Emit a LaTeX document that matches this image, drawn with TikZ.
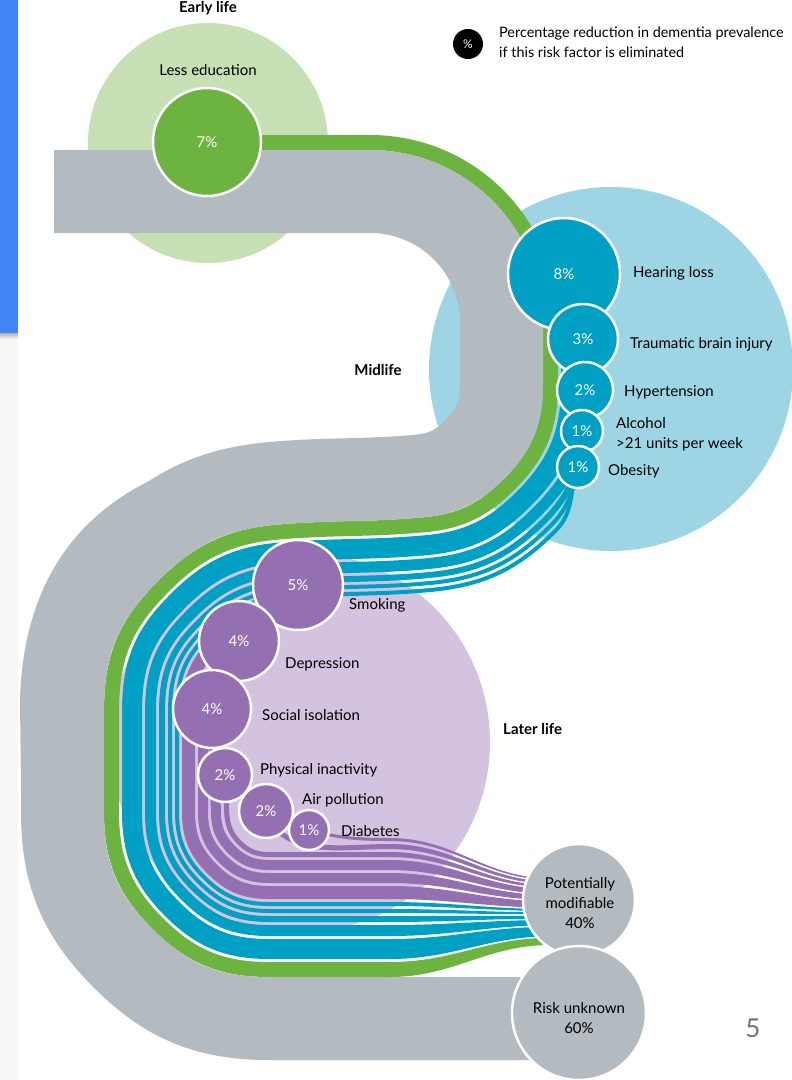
\documentclass[tikz,border=0pt]{standalone}
\usepackage{fontspec}
\setmainfont{Lato}
\usetikzlibrary{calc}
\definecolor{bandgrey}{HTML}{B3BAC0}
\definecolor{mgreen}{HTML}{6DB33F}
\definecolor{lgreen}{HTML}{C7DFB4}
\definecolor{mblue}{HTML}{00A0C4}
\definecolor{lblue}{HTML}{9DD5E5}
\definecolor{mpurple}{HTML}{946FB1}
\definecolor{lpurple}{HTML}{D3C2E0}
\definecolor{barblue}{HTML}{4285F4}
\newcommand\lblfont{\fontsize{15}{18}\selectfont}
\tikzset{factor/.style = {circle, draw=white, line width=2.5pt, inner sep=0, text=white, font=\lblfont}}
\tikzset{lbl/.style = {anchor=base west, inner sep=0, font=\lblfont}}
\tikzset{stage/.style = {anchor=base, inner sep=0, font=\lblfont\bfseries}}
% one flow, offset #1 from the grey/green edge
\tikzset{
  pA/.style = {insert path={-- ($(a1)+(90:#1)$) to[out=0,in=90] ($(a2)+(0:#1)$)}},
  pB/.style = {insert path={-- ($(a3)+(0:#1)$) to[out=-90,in=45] ($(a3m)+(-45:#1)$)}},
  pC/.style = {insert path={to[out=-135,in=5] ($(a4)+(275:#1)$) to[out=185,in=5] ($(a5)+(275:#1)$) to[out=185,in=47.5] ($(a5m)+(-42.5:#1)$)}},
  pD/.style = {insert path={to[out=227.5,in=90] ($(a6)+(0:#1)$) -- ($(a7)+(0:#1)$)}},
  pE/.style = {insert path={to[out=-90,in=135] ($(a7m)+(45:#1)$)}},
  pF/.style = {insert path={to[out=-45,in=180] ($(a8)+(90:#1)$) -- ($(a9)+(90:#1)$)}}
}
\newcommand\taper[3]{%
  \fill[#3] ($(a9)+(90:#1)$) to[out=0,in=180] (550,{-945+0.48*#1})
    -- (550,{-945+0.48*#2}) to[out=180,in=0] ($(a9)+(90:#2)$) -- cycle;}

\begin{document}
\begin{tikzpicture}[x=1pt, y=1pt]
  \useasboundingbox (0,0) rectangle (792,-1080);
  \fill[black!3] (0,-333) rectangle (18,-1080);
  \shade[top color=black!30, bottom color=black!3] (0,-333) rectangle (18,-339);
  \fill[barblue] (0,0) rectangle (18,-333);

  % path of the grey/green edge
  \coordinate (a0) at (54,-150);
  \coordinate (a1) at (370,-150);
  \coordinate (a2) at (543,-323);
  \coordinate (a3) at (543,-385);
  \coordinate (a3m) at (504,-479);
  \coordinate (a4) at (421.6,-517.5);
  \coordinate (a5) at (276.5,-524.7);
  \coordinate (a5m) at (148.2,-591.5);
  \coordinate (a6) at (104,-713);
  \coordinate (a7) at (104,-812);
  \coordinate (a7m) at (152.3,-928.7);
  \coordinate (a8) at (269,-977);
  \coordinate (a9) at (390,-977);

  % life stages
  \fill[lgreen] (208,-143) circle (120);
  \fill[lblue] (611,-369) circle (182);
  \fill[lpurple] (300,-742) circle (190);

  % later life flows
  \draw[mpurple, line width=13pt] (298,-585) to[out=200,in=47.5] ($(a5m)+(-42.5:84.5)$) [pD=84.5] [pE=84.5] [pF=84.5];
  \draw[mpurple, line width=10pt] (239,-641) to[out=250,in=90] ($(a6)+(0:99)$) -- ($(a7)+(0:99)$) [pE=99] [pF=99];
  \draw[mpurple, line width=10pt] (212,-709) -- ($(a7)+(0:112)$) [pE=112] [pF=112];
  \draw[mpurple, line width=5pt] (225,-775) to[out=-80,in=135] ($(a7m)+(45:122.5)$) [pF=122.5];
  \draw[mpurple, line width=5pt] (266,-811) to[out=-70,in=180] ($(a9)+(90:130.5)$);
  \draw[mpurple, line width=3pt] (309,-830) to[out=-15,in=180] ($(a9)+(90:137.5)$);

  % midlife flows
  \draw[mblue, line width=20pt] (564,-274) -- ($(a2)+(0:28)$) [pB=28] [pC=28] [pD=28] [pE=28] [pF=28];
  \draw[mblue, line width=11pt] (583,-339) [pB=46.5] [pC=46.5] [pD=46.5] [pE=46.5] [pF=46.5];
  \draw[mblue, line width=6pt] (585,-390) to[out=-90,in=45] ($(a3m)+(-45:58)$) [pC=58] [pD=58] [pE=58] [pF=58];
  \draw[mblue, line width=4pt] (582,-431) to[out=-100,in=45] ($(a3m)+(-45:66)$) [pC=66] [pD=66] [pE=66] [pF=66];
  \draw[mblue, line width=4pt] (578,-467) to[out=-110,in=45] ($(a3m)+(-45:73)$) [pC=73] [pD=73] [pE=73] [pF=73];

  % early life flow and unknown risk
  \draw[mgreen, line width=15pt] (207,-142.5) [pA=7.5] [pB=7.5] [pC=7.5] [pD=7.5] [pE=7.5] [pF=7.5];
  \draw[bandgrey, line width=83pt] ($(a0)+(90:-41.5)$) [pA=-41.5] [pB=-41.5] [pC=-41.5] [pD=-41.5] [pE=-41.5] [pF=-41.5] -- ++(160,0);
  \fill[bandgrey] (300,-443) .. controls (150,-455) and (25,-520) .. (20,-700) -- (21,-790)
    -- (60,-790) -- (70,-640) -- (150,-540) -- (280,-495) -- (300,-480) -- cycle;

  % flows running into the circle
  \taper{0}{15}{mgreen}
  \taper{18}{38}{mblue}
  \taper{41}{52}{mblue}
  \taper{55}{61}{mblue}
  \taper{64}{68}{mblue}
  \taper{71}{75}{mblue}
  \taper{78}{91}{mpurple}
  \taper{94}{104}{mpurple}
  \taper{107}{117}{mpurple}
  \taper{120}{125}{mpurple}
  \taper{128}{133}{mpurple}
  \taper{136}{139}{mpurple}

  % risk factors
  \node[factor, fill=mgreen, minimum size=108pt] (edu) at (207,-142) {7\%};
  \node[factor, fill=mblue, minimum size=112pt] (hear) at (564,-274) {8\%};
  \node[factor, fill=mblue, minimum size=70pt] (tbi) at (583,-339) {3\%};
  \node[factor, fill=mblue, minimum size=56pt] (hyp) at (585,-390) {2\%};
  \node[factor, fill=mblue, minimum size=42pt] (alc) at (582,-431) {1\%};
  \node[factor, fill=mblue, minimum size=42pt] (obe) at (578,-467) {1\%};
  \node[factor, fill=mpurple, minimum size=90pt] (smk) at (298,-585) {5\%};
  \node[factor, fill=mpurple, minimum size=80pt] (dep) at (239,-641) {4\%};
  \node[factor, fill=mpurple, minimum size=78pt] (soc) at (212,-709) {4\%};
  \node[factor, fill=mpurple, minimum size=54pt] (phy) at (225,-775) {2\%};
  \node[factor, fill=mpurple, minimum size=54pt] (air) at (266,-811) {2\%};
  \node[factor, fill=mpurple, minimum size=40pt] (dia) at (309,-830) {1\%};
  \node[factor, fill=bandgrey, minimum size=112pt] (modif) at (579,-900) {};
  \node[factor, fill=bandgrey, minimum size=134pt] (unknown) at (579,-1013) {};

  % labels
  \node[stage] (early) at (208,-12.5) {Early life};
  \node[stage] (mid) at (378,-375) {Midlife};
  \node[stage, anchor=base west] (later) at (503,-734) {Later life};
  \node[lbl, anchor=base] (edulbl) at (208,-75) {Less education};
  \node[lbl] (hearlbl) at (633,-277) {Hearing loss};
  \node[lbl] (tbilbl) at (630,-348) {Traumatic brain injury};
  \node[lbl] (hyplbl) at (624,-396) {Hypertension};
  \node[lbl] (alclbl) at (616,-428) {Alcohol};
  \node[lbl] (alclbl2) at (616,-448) {>21 units per week};
  \node[lbl] (obelbl) at (608,-475) {Obesity};
  \node[lbl] (smklbl) at (349,-609) {Smoking};
  \node[lbl] (deplbl) at (285,-668) {Depression};
  \node[lbl] (soclbl) at (262,-720) {Social isolation};
  \node[lbl] (phylbl) at (260,-774) {Physical inactivity};
  \node[lbl] (airlbl) at (302,-804) {Air pollution};
  \node[lbl] (dialbl) at (341,-836) {Diabetes};
  \node[lbl, anchor=base] (modlbl1) at (580,-888) {Potentially};
  \node[lbl, anchor=base] (modlbl2) at (580,-908) {modifiable};
  \node[lbl, anchor=base] (modlbl3) at (580,-928) {40\%};
  \node[lbl, anchor=base] (unklbl1) at (579,-1013) {Risk unknown};
  \node[lbl, anchor=base] (unklbl2) at (579,-1033) {60\%};

  % key
  \node[circle, fill=black, minimum size=30pt, inner sep=0, text=white, font=\fontsize{12}{14}\selectfont] (key) at (468,-44) {\%};
  \node[lbl, font=\fontsize{14.4}{17}\selectfont] (keylbl1) at (499,-37) {Percentage reduction in dementia prevalence};
  \node[lbl, font=\fontsize{14.4}{17}\selectfont] (keylbl2) at (499,-57) {if this risk factor is eliminated};

  \node[anchor=base, inner sep=0, text=black!55, font=\fontsize{26}{30}\selectfont] (pagenum) at (753,-1037) {5};
\end{tikzpicture}
\end{document}
